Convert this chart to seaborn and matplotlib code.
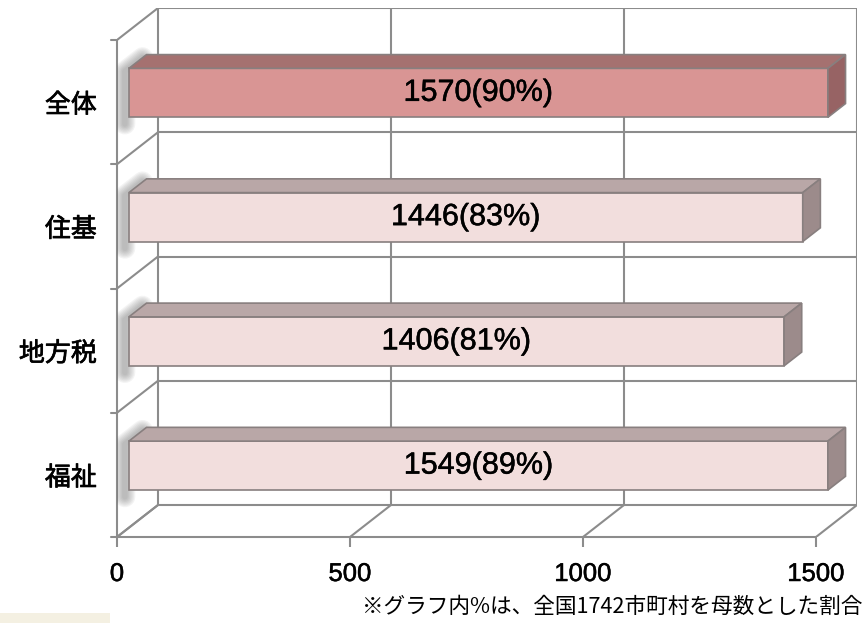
import numpy as np
import pandas as pd
import matplotlib
matplotlib.use("Agg")
import matplotlib.pyplot as plt
import matplotlib.transforms as mtransforms
import matplotlib.patheffects as pe
from matplotlib.patches import Rectangle
import seaborn as sns

categories = ["全体", "住基", "地方税", "福祉"]
counts = [1570, 1446, 1406, 1549]
percents = [90, 83, 81, 89]
x_ticks = [0, 500, 1000, 1500]
note = "※グラフ内%は、全国1742市町村を母数とした割合"

axis_max = 1500
shown = np.minimum(counts, axis_max)  # bars are cut at the axis maximum like in the original

front_cols = ["#D99594", "#F2DEDD", "#F2DEDD", "#F2DEDD"]
top_cols = ["#A57170", "#B9A7A7", "#B9A7A7", "#B9A7A7"]
side_cols = ["#976364", "#9C8B8B", "#9C8B8B", "#9C8B8B"]
edge = "#887F7F"
grid = "#8C8C8C"

sns.set_theme(style="white")
plt.rcParams["font.family"] = ["Liberation Sans", "Noto Sans CJK JP"]
num_fx = [pe.withStroke(linewidth=0.35, foreground="black")]
cjk_fx = [pe.withStroke(linewidth=0.5, foreground="black")]

W, H = 868, 623
fig = plt.figure(figsize=(W / 100, H / 100), dpi=100)

# pseudo 3d: front plane 117..816 px wide, 40..537 px high, depth shift (+41, -32) px
px_x = 699 / axis_max
px_y = 124.25
dep_px = (41, 32)
dep_x, dep_y = dep_px[0] / px_x, -dep_px[1] / px_y
f0, f1 = 0.29, 0.72  # bar front / back within the depth
bar_h = 0.394

ax = fig.add_axes([117 / W, (H - 537) / H, 740 / W, (537 - 8) / H])

df = pd.DataFrame({"cat": categories, "shown": shown})
sns.barplot(data=df, x="shown", y="cat", hue="cat", palette=front_cols,
            width=bar_h, legend=False, ax=ax, saturation=1,
            edgecolor=edge, linewidth=1.2, zorder=4)
off = mtransforms.offset_copy(ax.transData, fig=fig, x=f0 * dep_px[0],
                              y=f0 * dep_px[1], units="dots")
for p in ax.patches:
    p.set_transform(off)

ax.set_xlim(0, axis_max + dep_x)
ax.set_ylim(3.5, -0.5 + dep_y)
n = len(categories)


def P(x, y, d):
    return (x + d * dep_x, y + d * dep_y)


# walls and floor
bounds = np.arange(-0.5, n, 1.0)
for b in bounds:
    (x0, y0), (x1, y1) = P(0, b, 1), P(axis_max, b, 1)
    ax.plot([x0, x1], [y0, y1], color=grid, lw=1.5, zorder=1)
    (x0, y0), (x1, y1) = P(0, b, 0), P(0, b, 1)
    ax.plot([x0, x1], [y0, y1], color=grid, lw=1.5, zorder=1)
    ax.plot([-6 / px_x, 0], [b, b], color=grid, lw=1.5, zorder=1, clip_on=False)
for t in x_ticks:
    (x0, y0), (x1, y1) = P(t, 3.5, 1), P(t, -0.5, 1)
    ax.plot([x0, x1], [y0, y1], color=grid, lw=1.5, zorder=1)
    (x0, y0), (x1, y1) = P(t, 3.5, 0), P(t, 3.5, 1)
    ax.plot([x0, x1], [y0, y1], color=grid, lw=1.5, zorder=1)
ax.plot([0, axis_max], [3.5, 3.5], color=grid, lw=1.5, zorder=1, clip_on=False)
ax.plot([0, 0], [-0.5, 3.5], color=grid, lw=1.5, zorder=1, clip_on=False)

# soft drop shadow along the left edge and top-left of each bar
sh = mtransforms.offset_copy(ax.transData, fig=fig, x=-4, y=-3, units="dots")
for i in range(n):
    top, bot = i - bar_h / 2, i + bar_h / 2
    pts = [P(0, bot + 0.03, f0), P(0, top, f0), P(0, top, f1)]
    xs, ys = zip(*pts)
    for lw in np.linspace(15, 4, 7):
        ax.plot(xs, ys, color="#606060", lw=lw, alpha=0.07, transform=sh,
                solid_capstyle="round", solid_joinstyle="round", zorder=2)

# bar top and side faces
for i in range(n):
    L = shown[i]
    top, bot = i - bar_h / 2, i + bar_h / 2
    ax.fill(*zip(P(0, top, f0), P(L, top, f0), P(L, top, f1), P(0, top, f1)),
            facecolor=top_cols[i], edgecolor=edge, lw=1.2, zorder=4)
    ax.fill(*zip(P(L, top, f0), P(L, bot, f0), P(L, bot, f1), P(L, top, f1)),
            facecolor=side_cols[i], edgecolor=edge, lw=1.2, zorder=4)
    cx, cy = P(L / 2, i, f0)
    ax.text(cx, cy, f"{counts[i]}({percents[i]}%)", ha="center", va="center",
            fontsize=22, color="black", zorder=6, path_effects=num_fx)

for s in ax.spines.values():
    s.set_visible(False)
ax.set_xlabel("")
ax.set_ylabel("")
ax.set_xticks(x_ticks)
ax.set_xticklabels([str(t) for t in x_ticks], fontsize=18.5)
ax.set_yticks(range(n))
ax.set_yticklabels(categories, fontsize=18.7, family=["Noto Sans CJK JP"])
ax.tick_params(axis="x", bottom=True, length=7, width=1.5, color=grid,
               direction="out", pad=11, labelcolor="black")
ax.tick_params(axis="y", left=False, length=0, pad=14.5, labelcolor="black")
for lab in ax.get_xticklabels():
    lab.set_path_effects(num_fx)
for lab in ax.get_yticklabels():
    lab.set_path_effects(cjk_fx)

fig.text(862 / W, 1 - 607 / H, note, ha="right", va="center", fontsize=15.6,
         family=["Noto Sans CJK JP"], color="black")
fig.patches.append(Rectangle((0, 0), 110 / W, 10 / H, transform=fig.transFigure,
                             facecolor="#F4F0E2", lw=0))

fig.savefig("out.png", dpi=100)
